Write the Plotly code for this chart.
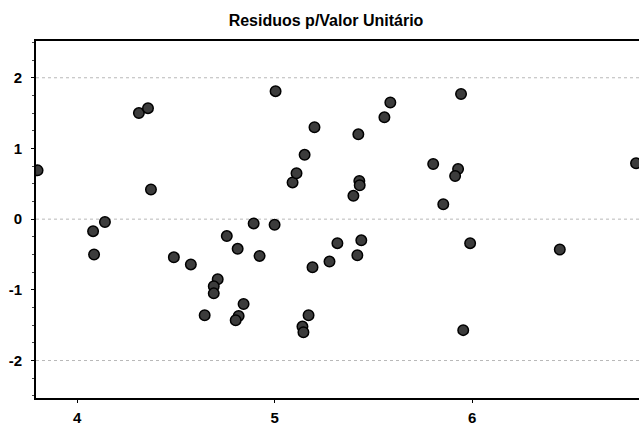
import plotly.graph_objects as go

x_vals = [3.80, 4.313, 4.359, 4.374, 4.081, 4.141, 4.086, 4.49, 4.576, 4.646,
          4.712, 4.692, 4.692, 4.758, 4.813, 4.843, 4.818, 4.803, 4.894, 4.924,
          5.0, 5.005, 5.192, 5.172, 5.141, 5.146, 5.091, 5.111, 5.152, 5.202,
          5.424, 5.556, 5.586, 5.944, 5.803, 5.929, 5.914, 5.429, 5.431, 5.399,
          5.854, 6.83, 5.318, 5.439, 5.419, 5.278, 5.990, 6.444, 5.955]
y_vals = [0.69, 1.50, 1.57, 0.42, -0.17, -0.04, -0.50, -0.54, -0.64, -1.36,
          -0.85, -0.95, -1.05, -0.24, -0.42, -1.20, -1.37, -1.43, -0.06, -0.52,
          -0.08, 1.81, -0.68, -1.36, -1.52, -1.60, 0.52, 0.65, 0.91, 1.30,
          1.20, 1.44, 1.65, 1.77, 0.78, 0.71, 0.61, 0.54, 0.48, 0.33,
          0.21, 0.79, -0.34, -0.30, -0.51, -0.60, -0.34, -0.43, -1.57]
grid_levels = [-2, 0, 2]
x_ticks = [4, 5, 6]
y_ticks = [-2, -1, 0, 1, 2]
y_tick_labels = ["-2", "-1", "0", "1", "2"]

fig = go.Figure()
fig.add_trace(go.Scatter(
    x=x_vals, y=y_vals, mode="markers",
    marker=dict(size=10.5, color="#3c3c3c", line=dict(color="black", width=1.5)),
    cliponaxis=True, showlegend=False))

for g in grid_levels:
    fig.add_shape(type="line", xref="paper", x0=0, x1=1, yref="y", y0=g, y1=g,
                  line=dict(color="#b8b8b8", width=1, dash="dot"), layer="below")

tick_font = dict(family="Liberation Sans, Arial", size=15, color="black", weight="bold")

fig.update_layout(
    width=639, height=425,
    margin=dict(l=36, r=0, t=41, b=27),
    paper_bgcolor="white", plot_bgcolor="white",
    title=dict(text="Residuos p/Valor Unitário", x=326 / 639, xanchor="center",
               xref="container", yref="container",
               y=1 - 20.5 / 425, yanchor="middle",
               font=dict(family="Liberation Sans, Arial", size=16, color="black",
                         weight="bold")),
    font=dict(family="Liberation Sans, Arial", size=15, color="black"),
)
fig.update_xaxes(range=[3.792, 6.845], tickvals=x_ticks, showgrid=False, zeroline=False,
                 showline=True, linecolor="black", linewidth=2, mirror=True,
                 ticks="outside", ticklen=3, tickcolor="black", tickfont=tick_font,
                 ticklabelstandoff=2)
fig.update_yaxes(range=[-2.53, 2.52], tickvals=y_ticks, ticktext=y_tick_labels,
                 showgrid=False, zeroline=False,
                 showline=True, linecolor="black", linewidth=2,
                 ticks="outside", ticklen=3, tickcolor="black", tickfont=tick_font,
                 ticklabelstandoff=6,
                 minor=dict(dtick=0.25, ticks="outside", ticklen=2, tickcolor="#444"))

fig.write_html(
    "out.html",
    config={"displayModeBar": False},
    post_script=("document.body.style.margin='0';"
                 "document.body.style.overflow='hidden';"
                 "document.documentElement.style.overflow='hidden';"),
)
